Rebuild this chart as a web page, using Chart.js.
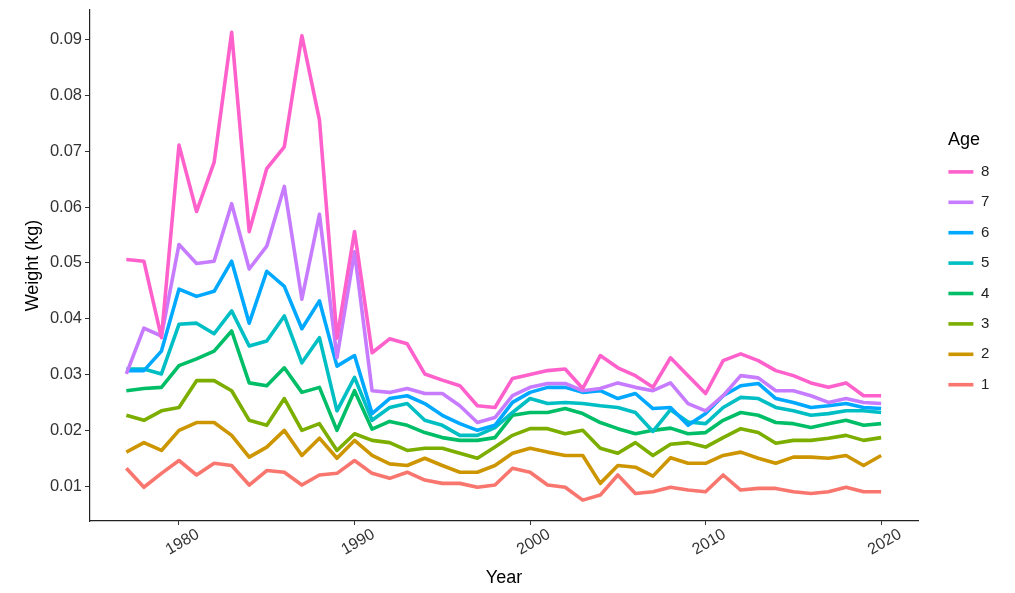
<!DOCTYPE html>
<html>
<head>
<meta charset="utf-8">
<script src="https://cdn.jsdelivr.net/npm/chart.js@4.4.0/dist/chart.umd.min.js"></script>
<style>
  body { margin: 0; background: #fff; }
  #wrap { width: 1015px; height: 593px; }
</style>
</head>
<body>
<div id="wrap"><canvas id="weightChart"></canvas></div>
<script>
const years = [1977,1978,1979,1980,1981,1982,1983,1984,1985,1986,1987,1988,1989,1990,1991,1992,1993,1994,1995,1996,1997,1998,1999,2000,2001,2002,2003,2004,2005,2006,2007,2008,2009,2010,2011,2012,2013,2014,2015,2016,2017,2018,2019,2020];

const age1 = [0.0132,0.0098,0.0123,0.0146,0.012,0.0141,0.0137,0.0102,0.0128,0.0125,
  0.0102,0.012,0.0123,0.0146,0.0123,0.0114,0.0125,0.0111,0.0105,0.0105,
  0.0098,0.0102,0.0132,0.0125,0.0102,0.0098,0.0075,0.0084,0.012,0.0087,
  0.009,0.0098,0.0093,0.009,0.012,0.0093,0.0096,0.0096,0.009,0.0087,
  0.009,0.0098,0.009,0.009];
const age2 = [0.0161,0.0178,0.0164,0.02,0.0214,0.0214,0.0191,0.0152,0.017,0.02,
  0.0155,0.0186,0.015,0.0182,0.0155,0.014,0.0137,0.015,0.0137,0.0125,
  0.0125,0.0137,0.0159,0.0168,0.0161,0.0155,0.0155,0.0105,0.0137,0.0134,
  0.0118,0.0151,0.0141,0.0141,0.0155,0.0161,0.015,0.0141,0.0152,0.0152,
  0.015,0.0155,0.0137,0.0155];
const age3 = [0.0227,0.0218,0.0235,0.0241,0.0289,0.0289,0.0271,0.0218,0.0209,0.0257,
  0.02,0.0212,0.0164,0.0194,0.0182,0.0178,0.0164,0.0168,0.0168,0.0159,
  0.015,0.017,0.0191,0.0203,0.0203,0.0194,0.02,0.0168,0.0159,0.0178,
  0.0155,0.0175,0.0178,0.017,0.0187,0.0203,0.0196,0.0177,0.0182,0.0182,
  0.0186,0.0191,0.0182,0.0187];
const age4 = [0.0271,0.0275,0.0277,0.0316,0.0328,0.0342,0.0378,0.0285,0.028,0.0312,
  0.0268,0.0277,0.02,0.0271,0.0202,0.0216,0.0209,0.0196,0.0187,0.0182,
  0.0182,0.0187,0.0227,0.0232,0.0232,0.0239,0.023,0.0214,0.0203,0.0194,
  0.02,0.0204,0.0194,0.0196,0.0218,0.0232,0.0227,0.0214,0.0212,0.0205,
  0.0212,0.0218,0.0209,0.0212];
const age5 = [0.031,0.031,0.0301,0.039,0.0392,0.0373,0.0414,0.0351,0.036,0.0405,
  0.0321,0.0366,0.0235,0.0295,0.0218,0.0241,0.0248,0.0218,0.0209,0.0191,
  0.0191,0.0205,0.0232,0.0257,0.0248,0.025,0.0248,0.0244,0.0241,0.0232,
  0.0198,0.0237,0.0215,0.0212,0.0241,0.0259,0.0257,0.0241,0.0235,0.0227,
  0.023,0.0235,0.0235,0.0232];
const age6 = [0.0307,0.0307,0.0342,0.0453,0.044,0.0449,0.0503,0.0392,0.0485,0.0458,
  0.0382,0.0432,0.0315,0.0334,0.023,0.0257,0.0262,0.0248,0.0227,0.0212,
  0.02,0.0209,0.025,0.0268,0.0277,0.0277,0.0268,0.0271,0.0257,0.0266,
  0.0239,0.0241,0.0209,0.023,0.0262,0.028,0.0284,0.0257,0.025,0.0241,
  0.0244,0.0248,0.0241,0.0239];
const age7 = [0.0301,0.0383,0.0369,0.0533,0.0499,0.0503,0.0606,0.0489,0.053,0.0637,
  0.0435,0.0587,0.033,0.052,0.0271,0.0268,0.0275,0.0266,0.0266,0.0244,
  0.0214,0.0223,0.0262,0.0277,0.0284,0.0284,0.0271,0.0275,0.0285,0.0277,
  0.0271,0.0285,0.0248,0.0235,0.0262,0.0298,0.0294,0.0271,0.0271,0.0262,
  0.025,0.0257,0.025,0.0248];
const age8 = [0.0506,0.0503,0.0366,0.0711,0.0592,0.068,0.0913,0.0556,0.0669,0.0708,
  0.0907,0.0756,0.0365,0.0556,0.0339,0.0364,0.0355,0.0301,0.029,0.028,
  0.0244,0.0241,0.0293,0.03,0.0307,0.031,0.0275,0.0334,0.0312,0.0298,
  0.0277,0.033,0.0298,0.0266,0.0325,0.0337,0.0325,0.0307,0.0298,0.0285,
  0.0277,0.0285,0.0262,0.0262];

const yTicks = [0.01,0.02,0.03,0.04,0.05,0.06,0.07,0.08,0.09];
const xTicks = [1980,1990,2000,2010,2020];

// legend order top-down is 8..1, same as ggplot
const series = [
  { label: '8', values: age8, color: '#FF61CC' },
  { label: '7', values: age7, color: '#C77CFF' },
  { label: '6', values: age6, color: '#00A9FF' },
  { label: '5', values: age5, color: '#00BFC4' },
  { label: '4', values: age4, color: '#00BE67' },
  { label: '3', values: age3, color: '#7CAE00' },
  { label: '2', values: age2, color: '#CD9600' },
  { label: '1', values: age1, color: '#F8766D' }
];

const FONT = 'Liberation Sans, Arial, sans-serif';
const LEGEND_W = 97;

// legend column: reserve 97px for layout, then draw it a bit further right
const legendShift = {
  id: 'legendShift',
  afterLayout(chart) {
    const lg = chart.legend;
    lg.left = chart.chartArea.right + 15;
    lg.width = 62;
    lg.right = lg.left + lg.width;
  }
};

const CHART = document.getElementById('weightChart');
let weightChart = new Chart(CHART, {
  type: 'line',
  data: {
    datasets: series.map(s => ({
      label: s.label,
      data: years.map((yr, i) => ({ x: yr, y: s.values[i] })),
      borderColor: s.color,
      backgroundColor: s.color,
      borderWidth: 3.6,
      pointRadius: 0,
      tension: 0,
      fill: false,
      borderJoinStyle: 'round',
      borderCapStyle: 'butt'
    }))
  },
  plugins: [legendShift],
  options: {
    responsive: true,
    maintainAspectRatio: false,
    animation: false,
    layout: { padding: { top: 0, left: 0, right: 0, bottom: 0 } },
    plugins: {
      tooltip: { enabled: false },
      legend: {
        position: 'right',
        align: 'start',
        title: {
          display: true,
          text: 'Age',
          color: '#000',
          position: 'center',
          font: { family: FONT, size: 18, lineHeight: 1 },
          padding: { top: 131, bottom: 0 }
        },
        labels: {
          usePointStyle: true,
          pointStyle: 'line',
          pointStyleWidth: 25,
          boxHeight: 14,
          padding: 15.4,
          color: '#222',
          font: { family: FONT, size: 15 }
        }
      }
    },
    scales: {
      x: {
        type: 'linear',
        min: 1974.93,
        max: 2022.1,
        afterBuildTicks: (axis) => { axis.ticks = xTicks.map(v => ({ value: v })); },
        afterFit: (axis) => { axis.height = 72; },
        border: { display: true, color: '#222', width: 1.2 },
        grid: { display: true, drawOnChartArea: false, drawTicks: true, tickLength: 4, color: '#333' },
        ticks: {
          minRotation: 30,
          maxRotation: 30,
          labelOffset: 19,
          padding: 0,
          color: '#333',
          font: { family: FONT, size: 16 },
          callback: (v) => String(v)
        },
        title: {
          display: true,
          text: 'Year',
          color: '#000',
          font: { family: FONT, size: 18 },
          padding: { top: 0, bottom: 4 }
        }
      },
      y: {
        min: 0.00376,
        max: 0.0953,
        afterBuildTicks: (axis) => { axis.ticks = yTicks.map(v => ({ value: v })); },
        afterFit: (axis) => { axis.width = 90; },
        border: { display: true, color: '#222', width: 1.2 },
        grid: { display: true, drawOnChartArea: false, drawTicks: true, tickLength: 5, color: '#333' },
        ticks: {
          padding: 3,
          color: '#333',
          font: { family: FONT, size: 16.5, lineHeight: 0.85 },
          callback: (v) => v.toFixed(2)
        },
        title: {
          display: true,
          text: 'Weight (kg)',
          color: '#000',
          font: { family: FONT, size: 18 },
          padding: { top: 22, bottom: 0 }
        }
      }
    }
  }
});

// keep the legend column at a fixed width so the plot ends where the reference does
const legendFit = weightChart.legend.fit;
weightChart.legend.fit = function () {
  legendFit.call(this);
  this.width = LEGEND_W;
};
weightChart.update('none');
</script>
</body>
</html>
